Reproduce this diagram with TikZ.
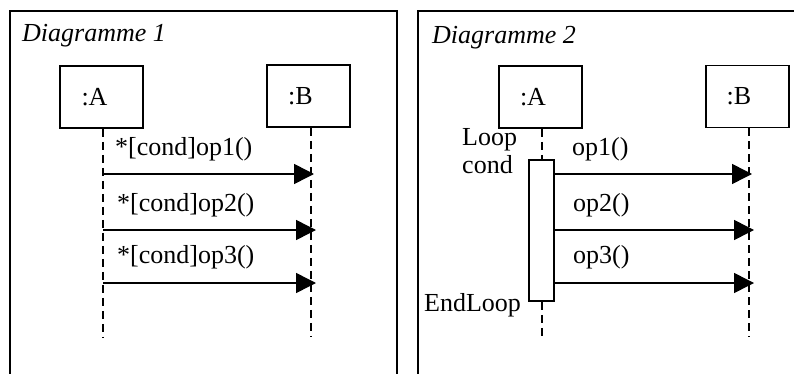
\documentclass[tikz,border=0pt]{standalone}
\usepackage{fontspec}
\setmainfont{Liberation Serif}
\usetikzlibrary{arrows.meta}
\begin{document}
\begin{tikzpicture}[x=1pt,y=-1pt,
  every node/.style={font=\fontsize{26}{30}\selectfont},
  frameline/.style={line width=1.8pt},
  objbox/.style={draw,line width=1.8pt,minimum width=83pt,minimum height=62pt,inner sep=0pt},
  txt/.style={anchor=base west,inner sep=0pt},
  lifeline/.style={line width=1.5pt,dash pattern=on 8pt off 5pt},
  msg/.style={line width=1.5pt,-{Triangle[length=20pt,width=20pt]}},
  actbox/.style={draw,fill=white,line width=1.8pt,minimum width=25pt,minimum height=141pt,inner sep=0pt}]
\useasboundingbox (0,0) rectangle (794,374);
% frames
\draw[frameline] (10,376) -- (10,11) -- (397,11) -- (397,376);
\draw[frameline] (418,376) -- (418,11) -- (797,11);
% ---------- Diagramme 1
\node[txt] (t1) at (22,42) {\itshape Diagramme 1};
\node[objbox] (a1) at (101.5,97) {:A\hspace*{14pt}};
\node[objbox] (b1) at (308.5,96) {:B\hspace*{16pt}};
\coordinate (a1e) at (103,337);
\coordinate (b1e) at (311,337);
\draw[lifeline] (a1.south -| a1e) -- (a1e);
\draw[lifeline] (b1.south -| b1e) -- (b1e);
\coordinate (a1m1) at (103,174); \coordinate (b1m1) at (314,174);
\coordinate (a1m2) at (103,230); \coordinate (b1m2) at (316,230);
\coordinate (a1m3) at (103,283); \coordinate (b1m3) at (316,283);
\draw[msg] (a1m1) -- (b1m1);
\draw[msg] (a1m2) -- (b1m2);
\draw[msg] (a1m3) -- (b1m3);
\node[txt] (l11) at (115,156) {*[cond]op1()};
\node[txt] (l12) at (117,211) {*[cond]op2()};
\node[txt] (l13) at (117,263) {*[cond]op3()};
% ---------- Diagramme 2
\node[txt] (t2) at (432,44) {\itshape Diagramme 2};
\node[objbox] (a2) at (540.5,97) {:A\hspace*{15pt}};
\node[objbox] (b2) at (747.5,96.5) {:B\hspace*{17pt}};
\node[actbox] (act) at (541.5,230.5) {};
\coordinate (a2e) at (542,337);
\coordinate (b2e) at (749,337);
\draw[lifeline] (a2.south -| a2e) -- (act.north -| a2e);
\draw[lifeline] (act.south -| a2e) -- (a2e);
\draw[lifeline] (b2.south -| b2e) -- (b2e);
\coordinate (b2m1) at (752,174);
\coordinate (b2m2) at (754,230);
\coordinate (b2m3) at (754,283);
\draw[msg] (act.east |- b2m1) -- (b2m1);
\draw[msg] (act.east |- b2m2) -- (b2m2);
\draw[msg] (act.east |- b2m3) -- (b2m3);
\node[txt] (l21) at (572,156) {op1()};
\node[txt] (l22) at (573,211) {op2()};
\node[txt] (l23) at (573,263) {op3()};
\node[txt] (loop) at (462,146) {Loop};
\node[txt] (cond) at (462,173) {cond};
\node[txt] (endl) at (424,311) {EndLoop};
\end{tikzpicture}
\end{document}
